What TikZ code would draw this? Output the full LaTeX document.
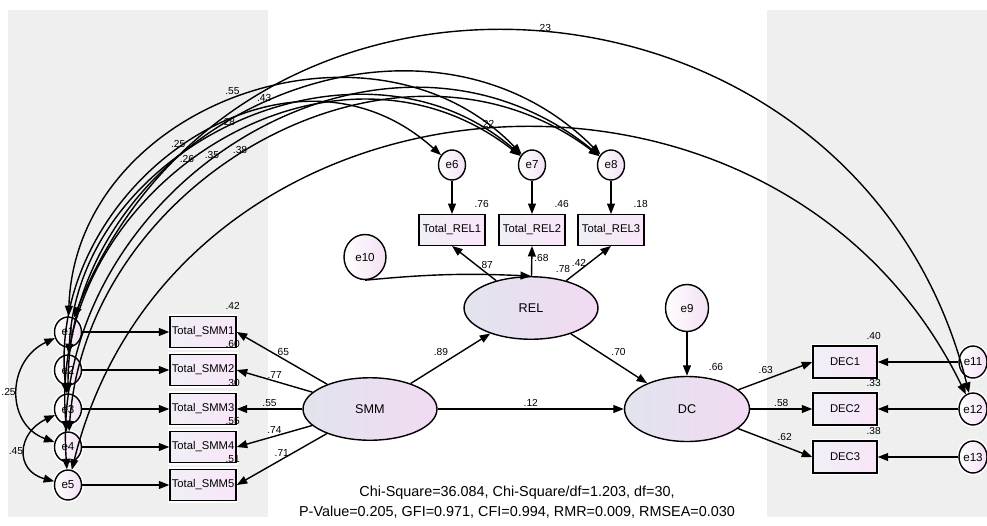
\documentclass[tikz,border=0pt]{standalone}
\usepackage{fontspec}
\setmainfont{Liberation Sans}
\usetikzlibrary{arrows.meta,shapes.geometric}

\definecolor{panel}{HTML}{EFEFEF}
\definecolor{latL}{HTML}{E2E4EE}
\definecolor{latR}{HTML}{F2DAF2}
\definecolor{boxL}{HTML}{F1EFF7}
\definecolor{boxR}{HTML}{F8E6F8}
\definecolor{errR}{HTML}{F3E0F4}

\tikzset{
 halo/.style={preaction={draw=white, line width=2.6pt}},
 obs/.style={halo, draw, line width=0.8pt, rectangle, minimum width=1.32cm, minimum height=0.61cm, inner sep=0pt, left color=boxL, right color=boxR, font=\fontsize{6.4}{7.5}\selectfont},
 lat/.style={draw, ellipse, line width=0.8pt, minimum width=2.68cm, minimum height=1.25cm, inner sep=0pt, left color=latL, right color=latR, font=\fontsize{7.2}{8}\selectfont},
 err/.style={halo, draw, ellipse, line width=0.8pt, minimum width=0.54cm, minimum height=0.6cm, inner sep=0pt, left color=white, right color=errR, font=\fontsize{6.6}{7.5}\selectfont},
 bigerr/.style={err, minimum width=0.86cm, minimum height=0.94cm},
 path/.style={-{Triangle[length=6pt,width=4.5pt]}, line width=0.8pt},
 cov/.style={{Triangle[length=6pt,width=4.5pt]}-{Triangle[length=6pt,width=4.5pt]}, line width=0.8pt},
 lbl/.style={font=\fontsize{5.8}{6.5}\selectfont, inner sep=1pt},
 rsq/.style={lbl, anchor=south, xshift=-0.08cm, yshift=0.08cm},
}

\begin{document}
\begin{tikzpicture}[x=0.02cm, y=0.02cm]
 \useasboundingbox[fill=white] (0,0) rectangle (987,-525);
 \fill[panel] (8,-10) rectangle (268,-517);
 \fill[panel] (767,-10) rectangle (987,-517);

 \node[lat] (SMM) at (370,-409) {SMM};
 \node[lat, label={[lbl, anchor=south, xshift=0.64cm, yshift=0.03cm]north:.78}] (REL) at (531,-308) {REL};
 \node[lat, minimum width=2.5cm, minimum height=1.3cm, label={[lbl, anchor=south, xshift=0.58cm, yshift=0.06cm]north:.66}] (DC) at (687,-409) {DC};
 \node[bigerr] (e9) at (687,-308) {e9};
 \node[bigerr, minimum width=0.84cm, minimum height=0.9cm] (e10) at (365,-257) {e10};

 \foreach \i/\y/\r in {1/332/.42, 2/370/.60, 3/409/.30, 4/447/.55, 5/485/.51} {
  \node[obs, label={[rsq]north east:\r}] (smm\i) at (203,-\y) {Total\_SMM\i};
  \node[err] (e\i) at (68,-\y) {e\i};
  \draw[path] (e\i) -- (smm\i);
 }
 \foreach \i/\x/\r/\k in {1/452/.76/6, 2/532/.46/7, 3/611/.18/8} {
  \node[obs, label={[rsq]north east:\r}] (rel\i) at (\x,-230) {Total\_REL\i};
  \node[err] (e\k) at (\x,-165) {e\k};
  \draw[path] (e\k) -- (rel\i);
 }
 \foreach \i/\y/\r/\k in {1/362/.40/11, 2/409/.33/12, 3/457/.38/13} {
  \node[obs, minimum width=1.28cm, minimum height=0.64cm, label={[rsq]north east:\r}] (dec\i) at (845,-\y) {DEC\i};
  \node[err, minimum width=0.56cm, minimum height=0.64cm] (e\k) at (973,-\y) {e\k};
  \draw[path] (e\k) -- (dec\i);
 }

 \draw[path] (SMM) -- (smm1.east) node[lbl, midway, above] {.65};
 \draw[path] (SMM) -- (smm2.east) node[lbl, midway, above] {.77};
 \draw[path] (SMM) -- (smm3.east) node[lbl, midway, above] {.55};
 \draw[path] (SMM) -- (smm4.east) node[lbl, midway, above] {.74};
 \draw[path] (SMM) -- (smm5.east) node[lbl, midway, above] {.71};
 \draw[path] (SMM) -- (REL) node[lbl, midway, above left] {.89};
 \draw[path] (SMM) -- (DC) node[lbl, midway, above] {.12};
 \draw[path] (REL) -- (DC) node[lbl, midway, above right] {.70};
 \draw[path] (REL) -- (rel1.south) node[lbl, pos=0.45, right] {.87};
 \draw[path] (REL) -- (rel2.south) node[lbl, pos=0.6, right] {.68};
 \draw[path] (REL) -- (rel3.south) node[lbl, midway, left] {.42};
 \draw[path] (e9) -- (DC);
 \draw[path] (e10.south) to[bend left=4] (REL.north);
 \draw[path] (DC) -- (dec1.west) node[lbl, midway, above left] {.63};
 \draw[path] (DC) -- (dec2.west) node[lbl, midway, above] {.58};
 \draw[path] (DC) -- (dec3.west) node[lbl, midway, above right] {.62};

 \draw[cov] (e1) to[out=205, in=160, looseness=1.3] node[lbl, midway, left] {.25} (e4);
 \draw[cov] (e3) to[out=205, in=165, looseness=1.6] node[lbl, midway, left] {.45} (e5);
 \draw[cov] (e1) to[out=88, in=134, looseness=1.14] node[lbl, midway, above left] {.55} (e7);
 \draw[cov] (e3) to[out=90, in=135, looseness=1.16] node[lbl, midway, above] {.43} (e8);
 \draw[cov] (e2) to[out=87, in=139, looseness=1.1] node[lbl, pos=0.48, above] {.28} (e7);
 \draw[cov] (e3) to[out=96, in=138, looseness=1.2] node[lbl, pos=0.48, above] {.25} (e6);
 \draw[cov] (e4) to[out=95, in=142, looseness=1.17] node[lbl, pos=0.45, above] {.26} (e7);
 \draw[cov] (e5) to[out=94, in=141, looseness=1.17] node[lbl, pos=0.45, above] {.35} (e8);
 \draw[cov] (e4) to[out=86, in=143, looseness=1.09] node[lbl, pos=0.46, above] {.38} (e8);
 \draw[cov] (e1) to[out=68, in=104, looseness=1.29] node[lbl, midway, above] {.23} (e12);
 \draw[cov] (e5) to[out=76, in=116, looseness=1.23] node[lbl, midway, above] {.22} (e12);

 \node[font=\fontsize{8.2}{11.4}\selectfont, align=center] (fit) at (517,-502) {Chi-Square=36.084, Chi-Square/df=1.203, df=30,\\P-Value=0.205, GFI=0.971, CFI=0.994, RMR=0.009, RMSEA=0.030};
\end{tikzpicture}
\end{document}
